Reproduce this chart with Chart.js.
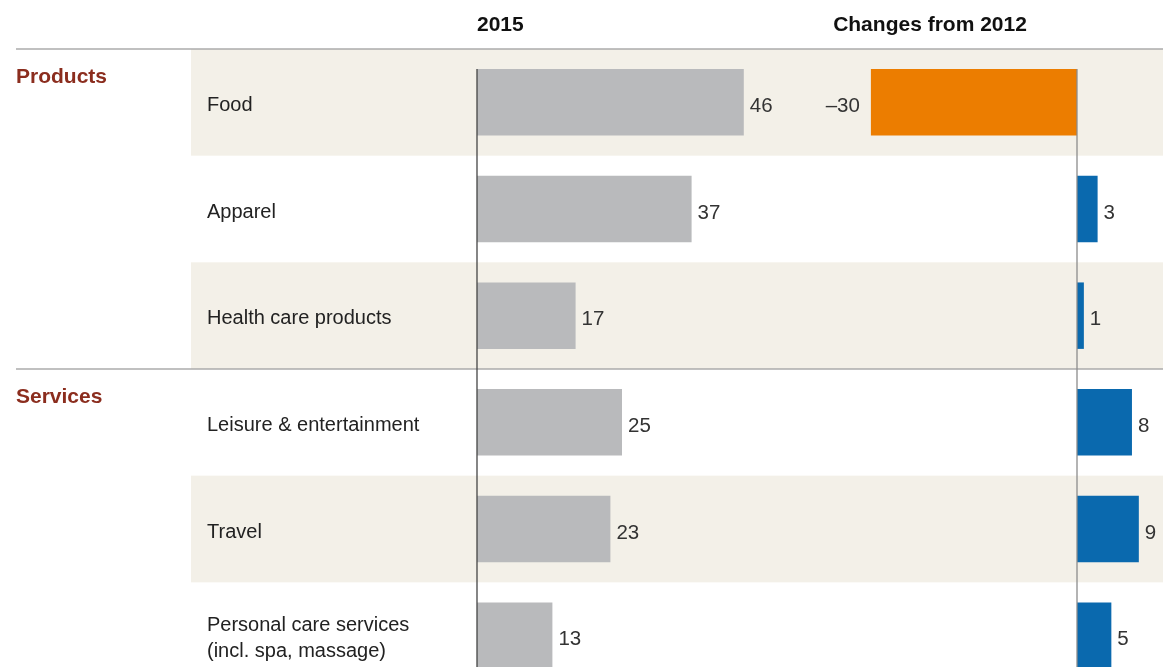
<!DOCTYPE html>
<html lang="en">
<head>
    <meta charset="UTF-8">
    <title>Spending 2015</title>
    <script src="https://cdn.jsdelivr.net/npm/chart.js"></script>
    <style>
        body { margin: 0; overflow: hidden; background: #fff; }
    </style>
</head>
<body>
    <canvas id="grafico" width="1163" height="705"></canvas>

    <script>
        // dados
        const categorias = ['Food', 'Apparel', 'Health care products', 'Leisure & entertainment', 'Travel',
            ['Personal care services', '(incl. spa, massage)']]
        const grupos = ['Products', 'Services']
        const inicioGrupo = [0, 3]
        const valores2015 = [46, 37, 17, 25, 23, 13]
        const mudanca2012 = [-30, 3, 1, 8, 9, 5]
        const titulos = ['2015', 'Changes from 2012']

        const fonte = '"Liberation Sans", Arial, sans-serif'
        const barPct = 0.623

        // fundo das linhas, linhas horizontais, titulos e grupos
        const fundo = {
            id: 'fundo',
            beforeDraw(chart) {
                const c = chart.ctx
                const y = chart.scales.y
                const meio = (y.getPixelForValue(1) - y.getPixelForValue(0)) / 2
                c.save()
                c.fillStyle = '#f3f0e8'
                categorias.forEach((cat, i) => {
                    if (i % 2 === 0) {
                        const yc = y.getPixelForValue(i)
                        c.fillRect(191, yc - meio, chart.width - 191, meio * 2)
                    }
                })
                c.strokeStyle = '#ababab'
                c.lineWidth = 1.3
                inicioGrupo.forEach(i => {
                    const yl = y.getPixelForValue(i) - meio
                    c.beginPath()
                    c.moveTo(16, yl)
                    c.lineTo(chart.width, yl)
                    c.stroke()
                })

                c.fillStyle = '#8b2d1e'
                c.font = 'bold 21px ' + fonte
                c.textBaseline = 'middle'
                c.textAlign = 'left'
                grupos.forEach((g, k) => {
                    const yl = y.getPixelForValue(inicioGrupo[k]) - meio
                    c.fillText(g, 16, yl + 28)
                })

                c.fillStyle = '#111'
                c.font = 'bold 21px ' + fonte
                c.fillText(titulos[0], chart.scales.x.getPixelForValue(0), 25)
                c.textAlign = 'center'
                c.fillText(titulos[1], 930, 25)
                c.restore()
            },
            afterDatasetsDraw(chart) {
                const c = chart.ctx
                const y = chart.scales.y
                const passo = y.getPixelForValue(1) - y.getPixelForValue(0)
                const topo = y.getPixelForValue(0) - passo * barPct / 2
                c.save()
                // eixos
                c.lineWidth = 1.3
                c.strokeStyle = '#444'
                let x0 = chart.scales.x.getPixelForValue(0)
                c.beginPath(); c.moveTo(x0, topo); c.lineTo(x0, chart.height); c.stroke()
                c.strokeStyle = '#8c8c8c'
                x0 = chart.scales.x2.getPixelForValue(0)
                c.beginPath(); c.moveTo(x0, topo); c.lineTo(x0, chart.height); c.stroke()

                // valores
                c.font = '20.5px ' + fonte
                c.fillStyle = '#333'
                c.textBaseline = 'middle'
                chart.data.datasets.forEach((ds, d) => {
                    chart.getDatasetMeta(d).data.forEach((bar, i) => {
                        const v = ds.data[i]
                        if (v < 0) {
                            c.textAlign = 'right'
                            c.fillText('\u2013' + Math.abs(v), bar.x - 11, bar.y + 4)
                        } else {
                            c.textAlign = 'left'
                            c.fillText(String(v), bar.x + 6, bar.y + 4)
                        }
                    })
                })
                c.restore()
            }
        }

        const ctx = document.getElementById('grafico')

        let grafico = new Chart(ctx, {
            type: 'bar',
            data: {
                labels: categorias,
                datasets: [{
                    label: titulos[0],
                    data: valores2015,
                    xAxisID: 'x',
                    backgroundColor: '#b9babc'
                }, {
                    label: titulos[1],
                    data: mudanca2012,
                    xAxisID: 'x2',
                    backgroundColor: mudanca2012.map(v => v < 0 ? '#ec7d00' : '#0a69ae')
                }]
            },
            options: {
                indexAxis: 'y',
                responsive: false,
                animation: false,
                grouped: false,
                barPercentage: barPct,
                categoryPercentage: 1,
                layout: { padding: { left: 207, top: 49, right: 0, bottom: 0 } },
                plugins: {
                    legend: { display: false },
                    tooltip: { enabled: false }
                },
                scales: {
                    x: { display: false, min: 0, max: 686 / 5.8 },
                    x2: { display: false, min: -600 / 6.87, max: 86 / 6.87 },
                    y: {
                        grid: { display: false },
                        border: { display: false },
                        ticks: {
                            crossAlign: 'far',
                            color: '#222',
                            labelOffset: 3,
                            font: { family: fonte, size: 20, lineHeight: 1.3 }
                        },
                        afterFit(scale) { scale.width = 270 }
                    }
                }
            },
            plugins: [fundo]
        })
    </script>
</body>
</html>
